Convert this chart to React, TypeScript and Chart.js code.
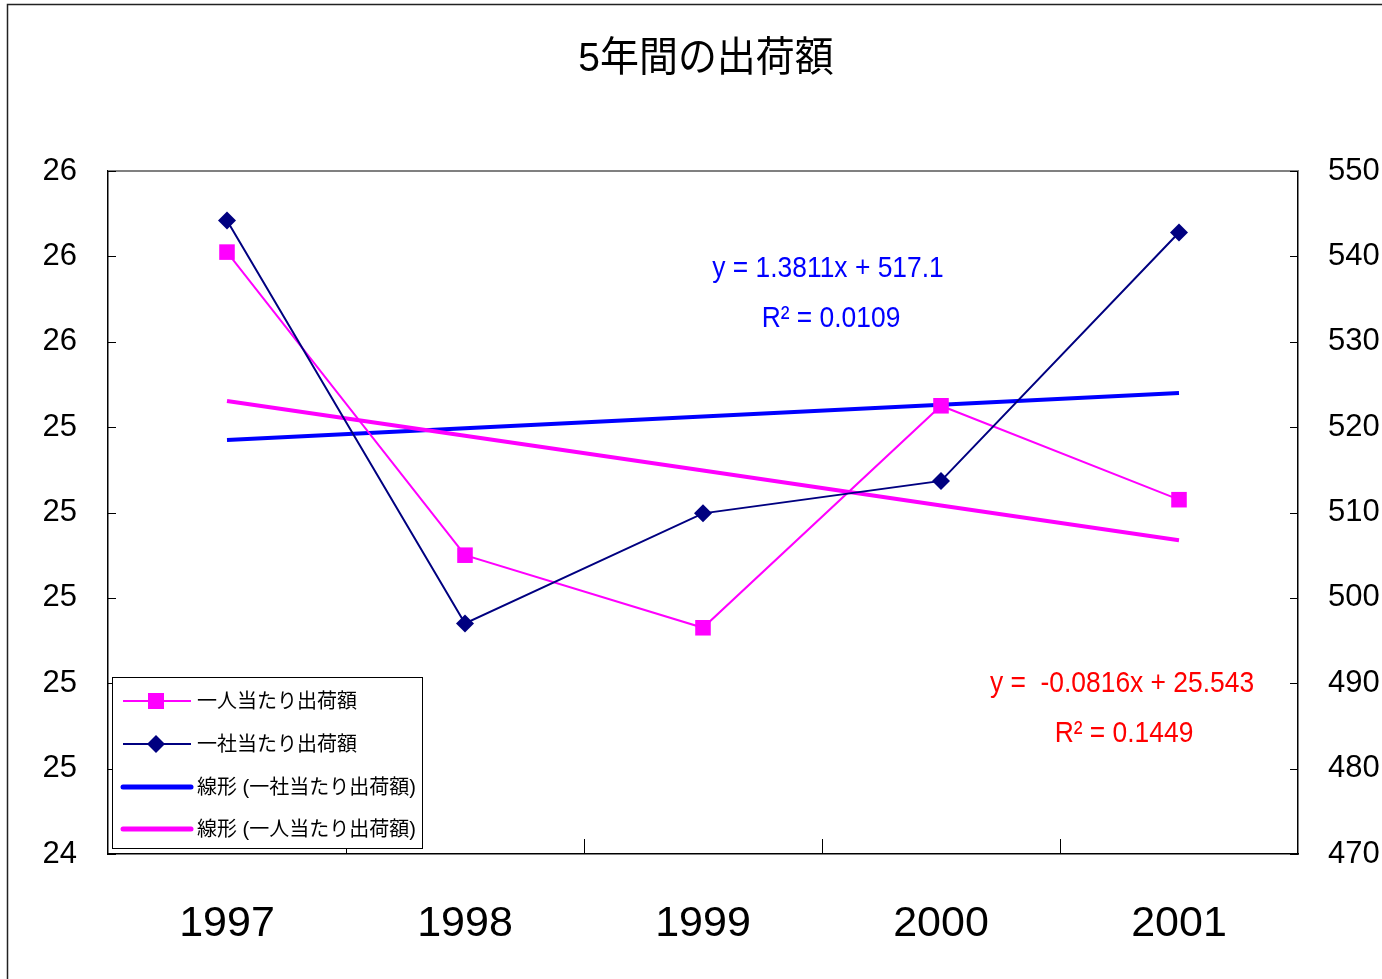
import React, { useEffect, useRef } from "react";
import { Chart, registerables } from "chart.js";

Chart.register(...registerables);

const years = ["1997", "1998", "1999", "2000", "2001"];
const perPerson = [25.81, 25.1, 24.93, 25.45, 25.23];
const perCompany = [544.2, 497.0, 509.9, 513.7, 542.8];

const companyTrendSlope = 1.3811;
const companyTrendIntercept = 517.1;
const personTrendSlope = -0.0816;
const personTrendIntercept = 25.543;

const leftTickValues = [24.4, 24.6, 24.8, 25.0, 25.2, 25.4, 25.6, 25.8, 26.0];
const leftTickLabels = ["24", "25", "25", "25", "25", "25", "26", "26", "26"];
const rightTickValues = [470, 480, 490, 500, 510, 520, 530, 540, 550];
const rightTickLabels = ["470", "480", "490", "500", "510", "520", "530", "540", "550"];

const titleText = "5年間の出荷額";
const seriesPerson = "一人当たり出荷額";
const seriesCompany = "一社当たり出荷額";
const trendCompanyLabel = "線形 (一社当たり出荷額)";
const trendPersonLabel = "線形 (一人当たり出荷額)";
const companyEq = ["y = 1.3811x + 517.1", "R² = 0.0109"];
const personEq = ["y =  -0.0816x + 25.543", "R² = 0.1449"];

const LAT = "'Liberation Sans', Arial, 'Noto Sans CJK JP', sans-serif";
const CJK = "'Liberation Sans', 'Noto Sans CJK JP', sans-serif";
const PINK = "#FF00FF";
const NAVY = "#000080";
const BLUE = "#0000FF";
const RED = "#FF0000";

const companyTrend = years.map((_, i) => companyTrendSlope * (i + 1) + companyTrendIntercept);
const personTrend = years.map((_, i) => personTrendSlope * (i + 1) + personTrendIntercept);

function narrowText(ctx: CanvasRenderingContext2D, text: string, x: number, y: number, sx: number) {
  ctx.save();
  ctx.translate(x, y);
  ctx.scale(sx, 1);
  ctx.fillText(text, 0, 0);
  ctx.restore();
}

const decorPlugin = {
  id: "decor",
  afterDraw(chart: any) {
    const ctx = chart.ctx as CanvasRenderingContext2D;
    const { left, right, top, bottom } = chart.chartArea;
    const xs = chart.scales.x;
    const yL = chart.scales.y;
    const yR = chart.scales.y1;
    ctx.save();
    // top frame line
    ctx.strokeStyle = "#808080";
    ctx.lineWidth = 2;
    ctx.beginPath();
    ctx.moveTo(left, top);
    ctx.lineTo(right, top);
    ctx.stroke();
    // inward ticks
    ctx.strokeStyle = "#000";
    ctx.lineWidth = 1;
    leftTickValues.forEach((v) => {
      const y = Math.round(yL.getPixelForValue(v)) + 0.5;
      ctx.beginPath();
      ctx.moveTo(left, y);
      ctx.lineTo(left + 8, y);
      ctx.stroke();
    });
    rightTickValues.forEach((v) => {
      const y = Math.round(yR.getPixelForValue(v)) + 0.5;
      ctx.beginPath();
      ctx.moveTo(right - 8, y);
      ctx.lineTo(right, y);
      ctx.stroke();
    });
    for (let i = 0; i < years.length - 1; i++) {
      const x = Math.round((xs.getPixelForValue(i) + xs.getPixelForValue(i + 1)) / 2) + 0.5;
      ctx.beginPath();
      ctx.moveTo(x, bottom);
      ctx.lineTo(x, bottom - 15);
      ctx.stroke();
    }
    // legend box
    const lx = 112, ly = 677, lw = 310, lh = 171;
    ctx.fillStyle = "#fff";
    ctx.fillRect(lx, ly, lw, lh);
    ctx.strokeStyle = "#000";
    ctx.lineWidth = 1;
    ctx.strokeRect(lx + 0.5, ly + 0.5, lw, lh);
    const rows = [
      { label: seriesPerson, color: PINK, width: 2, marker: "square" },
      { label: seriesCompany, color: NAVY, width: 2, marker: "diamond" },
      { label: trendCompanyLabel, color: BLUE, width: 5, marker: "" },
      { label: trendPersonLabel, color: PINK, width: 5, marker: "" },
    ];
    const rowY = [701, 744, 787, 829];
    rows.forEach((r, i) => {
      const y = rowY[i];
      ctx.strokeStyle = r.color;
      ctx.lineWidth = r.width;
      ctx.lineCap = r.marker ? "butt" : "round";
      ctx.beginPath();
      ctx.moveTo(123, y);
      ctx.lineTo(191, y);
      ctx.stroke();
      ctx.fillStyle = r.color;
      if (r.marker === "square") {
        ctx.fillRect(156 - 8, y - 8, 16, 16);
      } else if (r.marker === "diamond") {
        ctx.beginPath();
        ctx.moveTo(156, y - 9);
        ctx.lineTo(165, y);
        ctx.lineTo(156, y + 9);
        ctx.lineTo(147, y);
        ctx.closePath();
        ctx.fill();
      }
      ctx.fillStyle = "#000";
      ctx.font = `20px ${CJK}`;
      ctx.textAlign = "left";
      ctx.textBaseline = "middle";
      ctx.fillText(r.label, 197, y + 1);
    });
    // equations
    ctx.font = `30px ${LAT}`;
    ctx.textAlign = "center";
    ctx.textBaseline = "alphabetic";
    ctx.fillStyle = BLUE;
    narrowText(ctx, companyEq[0], 828, 277, 0.88);
    narrowText(ctx, companyEq[1], 831, 327, 0.88);
    ctx.fillStyle = RED;
    narrowText(ctx, personEq[0], 1122, 692, 0.88);
    narrowText(ctx, personEq[1], 1124, 742, 0.88);
    // title
    ctx.fillStyle = "#000";
    ctx.font = `41px ${CJK}`;
    ctx.textAlign = "center";
    ctx.textBaseline = "middle";
    narrowText(ctx, titleText, 706, 60, 0.95);
    // outer border
    ctx.strokeStyle = "#222";
    ctx.lineWidth = 1.5;
    ctx.beginPath();
    ctx.moveTo(7.5, 979);
    ctx.lineTo(7.5, 4.5);
    ctx.lineTo(1382, 4.5);
    ctx.stroke();
    ctx.restore();
  },
};

export default function App() {
  const ref = useRef<HTMLCanvasElement | null>(null);
  useEffect(() => {
    if (!ref.current) return;
    const chart = new Chart(ref.current, {
      type: "line",
      data: {
        labels: years,
        datasets: [
          {
            label: seriesPerson,
            data: perPerson,
            yAxisID: "y",
            borderColor: PINK,
            backgroundColor: PINK,
            borderWidth: 2,
            pointStyle: "rect",
            pointRadius: 11,
            pointBorderWidth: 0,
            tension: 0,
            order: 1,
          },
          {
            label: seriesCompany,
            data: perCompany,
            yAxisID: "y1",
            borderColor: NAVY,
            backgroundColor: NAVY,
            borderWidth: 2,
            pointStyle: "rectRot",
            pointRadius: 9,
            pointBorderWidth: 0,
            tension: 0,
            order: 0,
          },
          {
            label: trendCompanyLabel,
            data: companyTrend,
            yAxisID: "y1",
            borderColor: BLUE,
            borderWidth: 4,
            pointRadius: 0,
            tension: 0,
            order: 3,
          },
          {
            label: trendPersonLabel,
            data: personTrend,
            yAxisID: "y",
            borderColor: PINK,
            borderWidth: 4,
            pointRadius: 0,
            tension: 0,
            order: 2,
          },
        ],
      },
      options: {
        responsive: false,
        animation: false,
        layout: { padding: { top: 171, left: 0, right: 0, bottom: 0 } },
        plugins: { legend: { display: false }, title: { display: false }, tooltip: { enabled: false } },
        scales: {
          x: {
            type: "category",
            offset: true,
            grid: { display: false, drawTicks: false },
            border: { display: true, color: "#000", width: 1.5 },
            ticks: { font: { size: 43, family: LAT }, color: "#000", padding: 44, maxRotation: 0 },
            afterFit: (s: any) => { s.height = 125; },
          },
          y: {
            type: "linear",
            position: "left",
            min: 24.4,
            max: 26.0,
            grid: { display: false, drawTicks: false },
            border: { display: true, color: "#000", width: 1.5 },
            afterBuildTicks: (s: any) => { s.ticks = leftTickValues.map((v) => ({ value: v })); },
            ticks: {
              font: { size: 31, family: LAT },
              color: "#000",
              padding: 31,
              callback: (_v: any, i: number) => leftTickLabels[i],
            },
            afterFit: (s: any) => { s.width = 108; },
          },
          y1: {
            type: "linear",
            position: "right",
            min: 470,
            max: 550,
            grid: { display: false, drawTicks: false },
            border: { display: true, color: "#000", width: 1.5 },
            afterBuildTicks: (s: any) => { s.ticks = rightTickValues.map((v) => ({ value: v })); },
            ticks: {
              font: { size: 31, family: LAT },
              color: "#000",
              padding: 30,
              callback: (_v: any, i: number) => rightTickLabels[i],
            },
            afterFit: (s: any) => { s.width = 84; },
          },
        },
      },
      plugins: [decorPlugin],
    });
    return () => chart.destroy();
  }, []);
  return (
    <div style={{ position: "absolute", left: 0, top: 0, width: 1382, height: 979, background: "#fff" }}>
      <canvas ref={ref} width={1382} height={979} style={{ width: 1382, height: 979, display: "block" }} />
    </div>
  );
}
